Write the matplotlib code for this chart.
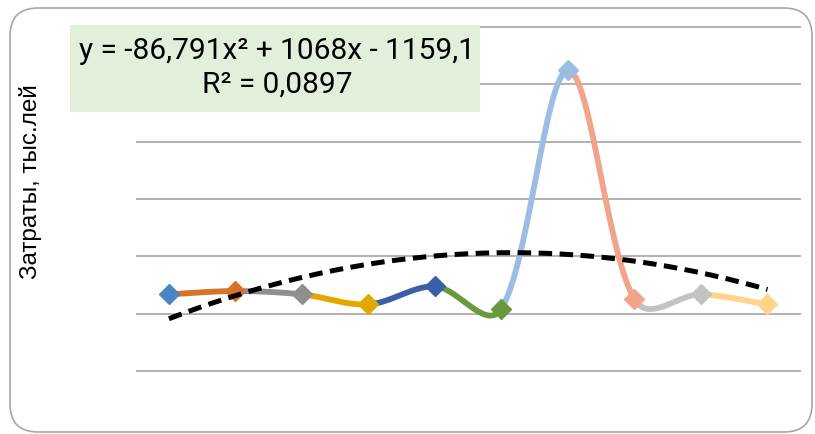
import numpy as np
import matplotlib
matplotlib.use('Agg')
import matplotlib.pyplot as plt
import matplotlib.patches as patches
from matplotlib.transforms import IdentityTransform

# Data (10 points, one colour each)
periods = [1, 2, 3, 4, 5, 6, 7, 8, 9, 10]
costs = [672, 787, 672, 324, 951, 174, 8477, 498, 672, 324]
point_colors = ['#4A86C5', '#D8702E', '#8F8F8F', '#E3A800', '#3A5FA8',
                '#68993D', '#9BBCE3', '#F0A58A', '#C3C3C3', '#FFD38A']

# Polynomial trendline printed on the chart
trend_a, trend_b, trend_c = -86.791, 1068, -1159.1
trend_label = 'y = -86,791x² + 1068x - 1159,1\nR² = 0,0897'
y_label = 'Затраты, тыс.лей'
grid_values = [-2000, 0, 2000, 4000, 6000, 8000, 10000]

W, H = 815, 434
fig = plt.figure(figsize=(W / 100, H / 100), dpi=100)
ax = fig.add_axes([135.7 / W, (H - 373.9) / H, 665 / W, 350 / H])
ax.set_xlim(0.5, 10.5)
ax.set_ylim(-2100, 10100)
for s in ax.spines.values():
    s.set_visible(False)
ax.set_xticks([])
ax.set_yticks(grid_values)
ax.tick_params(left=False, labelleft=False)
ax.yaxis.grid(True, color='#ABABAB', lw=1.3)
ax.set_axisbelow(True)


def smooth_segment(p0, p1, p2, p3, n=60):
    # Bezier segment like Excel's smoothed line, done in pixel space
    d01 = np.hypot(*(p1 - p0))
    d12 = np.hypot(*(p2 - p1))
    d23 = np.hypot(*(p3 - p2))
    w1 = np.sqrt(2 * d12 / (d01 + d12)) if d01 + d12 > 0 else 1
    w2 = np.sqrt(2 * d12 / (d12 + d23)) if d12 + d23 > 0 else 1
    c1 = p1 + (p2 - p0) / 6 * w1
    c2 = p2 - (p3 - p1) / 6 * w2
    t = np.linspace(0, 1, n)[:, None]
    return ((1 - t) ** 3 * p1 + 3 * (1 - t) ** 2 * t * c1
            + 3 * (1 - t) * t ** 2 * c2 + t ** 3 * p2)


pts = ax.transData.transform(np.column_stack([periods, costs]))
inv = ax.transData.inverted()
n = len(pts)
for i in range(n - 1):
    p0 = pts[i - 1] if i > 0 else pts[i]
    p3 = pts[i + 2] if i + 2 < n else pts[i + 1]
    seg = inv.transform(smooth_segment(p0, pts[i], pts[i + 1], p3))
    ax.plot(seg[:, 0], seg[:, 1], color=point_colors[i + 1], lw=4.2,
            solid_capstyle='round', zorder=2)

for x, y, c in zip(periods, costs, point_colors):
    ax.plot(x, y, marker='D', ms=10.5, color=c, mec=c, zorder=3)

xt = np.linspace(periods[0], periods[-1], 200)
ax.plot(xt, trend_a * xt ** 2 + trend_b * xt + trend_c, color='black',
        lw=3.6, ls=(0, (2.7, 1.5)), zorder=4)

# equation box
fig.patches.append(patches.Rectangle((70, H - 112), 410, 87, transform=IdentityTransform(),
                                     facecolor='#E2EFDA', edgecolor='none', zorder=5))
fig.text(277 / W, 1 - 68 / H, trend_label, ha='center', va='center', fontsize=21.5,
         linespacing=1.25, family=['Roboto', 'DejaVu Sans'], zorder=6)

fig.text(30 / W, 1 - 182 / H, y_label, rotation=90, ha='center', va='center',
         fontsize=17.5, family='Liberation Sans')

# rounded chart border
fig.patches.append(patches.FancyBboxPatch((10, 2), 802, 424,
                                          boxstyle='round,pad=0,rounding_size=28',
                                          transform=IdentityTransform(), fill=False,
                                          ec='#A6A6A6', lw=1.2))

fig.savefig('out.png', dpi=100)
